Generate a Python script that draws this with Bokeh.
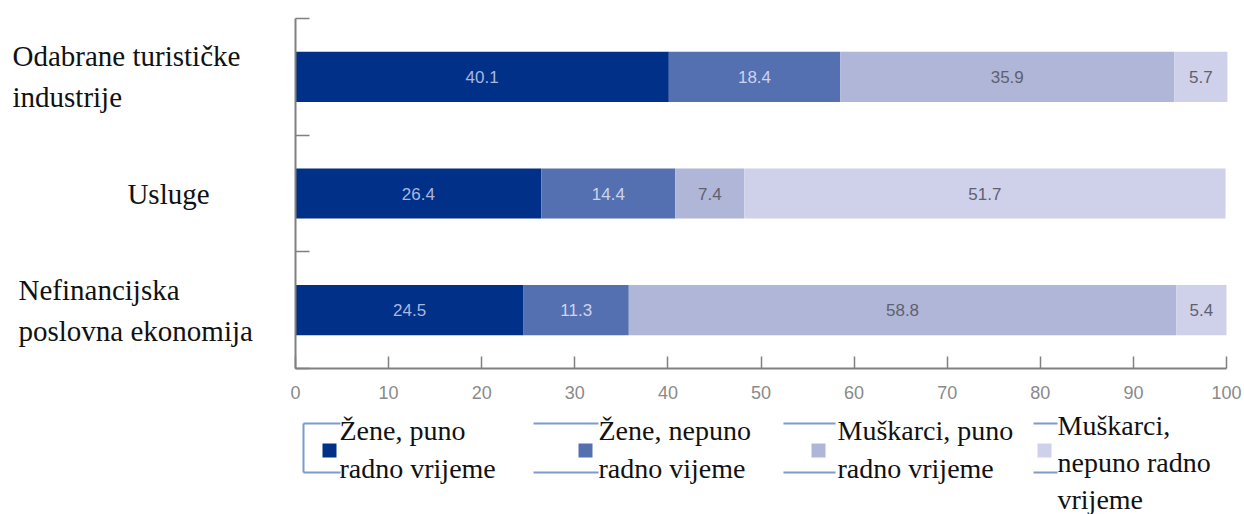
from bokeh.plotting import figure
from bokeh.models import Range1d, FixedTicker, ColumnDataSource
from bokeh.core.properties import value
from bokeh.embed import file_html
from bokeh.resources import INLINE

# ---- data ----
categories = ["Odabrane turističke\nindustrije", "Usluge", "Nefinancijska\nposlovna ekonomija"]
zene_puno = [40.1, 26.4, 24.5]
zene_nepuno = [18.4, 14.4, 11.3]
muskarci_puno = [35.9, 7.4, 58.8]
muskarci_nepuno = [5.7, 51.7, 5.4]
series_names = ["Žene, puno\nradno vrijeme", "Žene, nepuno\nradno vijeme",
                "Muškarci, puno\nradno vrijeme", "Muškarci,\nnepuno radno\nvrijeme"]
x_ticks = [0, 10, 20, 30, 40, 50, 60, 70, 80, 90, 100]

# ---- style / layout ----
colors = ["#003087", "#5570b0", "#b0b6d8", "#cfd1ea"]
label_colors = ["#a9b7df", "#ccd4ee", "#5f6070", "#5f6070"]
series = [zene_puno, zene_nepuno, muskarci_puno, muskarci_nepuno]
keys = ["zp", "zn", "mp", "mn"]

W, H = 1244, 514
PLOT_L, PLOT_R, PLOT_T, PLOT_B = 295, 1226, 18, 368   # page pixels of the value area
n = len(categories)
y_centers = [n - i - 0.5 for i in range(n)]

def X(px):  # page x -> data x
    return (px - PLOT_L) / (PLOT_R - PLOT_L) * 100.0

def Y(py):  # page y -> data y
    return (PLOT_B - py) / (PLOT_B - PLOT_T) * n

p = figure(output_backend="svg", toolbar_location=None, width=W, height=H,
           min_border=0, min_border_left=0, min_border_right=0,
           min_border_top=0, min_border_bottom=0,
           x_range=Range1d(X(0), X(W)), y_range=Range1d(Y(H), Y(0)))
p.outline_line_color = None
p.xgrid.visible = False
p.ygrid.visible = False
p.background_fill_color = "white"
p.border_fill_color = "white"

data = dict(y=y_centers)
for k, s in zip(keys, series):
    data[k] = s
src = ColumnDataSource(data)
p.hbar_stack(keys, y="y", height=0.43, color=colors, source=src, line_color=None)

# value labels
left = [0.0] * n
for s, lc in zip(series, label_colors):
    cx = [l + v / 2 for l, v in zip(left, s)]
    p.text(x=cx, y=y_centers, text=[f"{v:.1f}" for v in s], text_color=lc,
           text_font=value("Liberation Sans"), text_font_size="17px",
           text_align="center", text_baseline="middle")
    left = [l + v for l, v in zip(left, s)]

# axes (library axes, fixed at the value-area edges)
xa = p.xaxis[0]
xa.fixed_location = 0
xa.bounds = (0, 100)
xa.ticker = FixedTicker(ticks=x_ticks)
xa.axis_line_color = "#808080"
xa.axis_line_width = 2
xa.major_tick_line_color = "#808080"
xa.major_tick_line_width = 1.5
xa.major_tick_in = 12
xa.major_tick_out = 0
xa.minor_tick_line_color = None
xa.major_label_text_font = "Liberation Sans"
xa.major_label_text_font_size = "18px"
xa.major_label_text_color = "#8a8a8a"
xa.major_label_standoff = 17

ya = p.yaxis[0]
ya.fixed_location = 0
ya.bounds = (0, n)
ya.ticker = FixedTicker(ticks=list(range(n + 1)))
ya.axis_line_color = "#808080"
ya.axis_line_width = 2
ya.major_tick_line_color = "#808080"
ya.major_tick_line_width = 1.5
ya.major_tick_in = 14
ya.major_tick_out = 0
ya.minor_tick_line_color = None
ya.major_label_text_font_size = "0px"
ya.major_label_text_alpha = 0

# category labels
cat_px = [12, 168, 18]
cat_align = ["left", "center", "left"]
p.text(x=[X(v) for v in cat_px], y=y_centers, text=categories, text_align=cat_align,
       text_baseline="middle", text_font=value("Liberation Serif"), text_font_size="29px",
       text_color="#111111", text_line_height=1.28)

# legend
sq_cx = [329, 585, 818, 1044]
txt_x = [339, 598, 837, 1057]
txt_cy = [449, 449, 449, 462]
p.rect(x=[X(v) for v in sq_cx], y=[Y(450)] * 4, width=14, height=14,
       width_units="screen", height_units="screen", fill_color=colors, line_color=None)
p.text(x=[X(v) for v in txt_x], y=[Y(v) for v in txt_cy], text=series_names,
       text_align="left", text_baseline="middle", text_font=value("Liberation Serif"),
       text_font_size="28px", text_color="#111111", text_line_height=1.2)

# legend frame fragments
line_c = "#6f8fc8"
frags = [(303, 340), (533, 598), (783, 835), (1033, 1057)]
x0s, x1s, y0s, y1s = [], [], [], []
for a, b in frags:
    for yy in (423, 472):
        x0s.append(X(a)); x1s.append(X(b)); y0s.append(Y(yy)); y1s.append(Y(yy))
x0s.append(X(303)); x1s.append(X(303)); y0s.append(Y(423)); y1s.append(Y(472))
p.segment(x0=x0s, y0=y0s, x1=x1s, y1=y1s, line_color=line_c, line_width=2, line_alpha=0.9)

open("out.html", "w").write(file_html(p, INLINE))
